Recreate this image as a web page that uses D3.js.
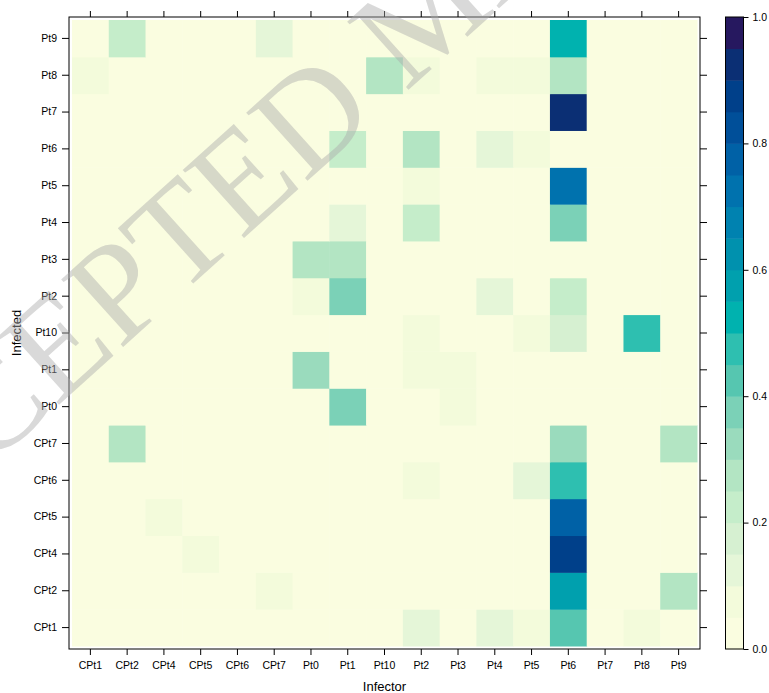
<!DOCTYPE html>
<html>
<head>
<meta charset="utf-8">
<script src="https://cdn.jsdelivr.net/npm/d3@7"></script>
<style>
    body { margin: 0; background: #fff; }
    svg { display: block; font-family: 'Liberation Sans', Arial, sans-serif; }
    .axis path { display: none; }
    .axis line { stroke: #000; }
    .axis text { font-size: 10.5px; fill: #000; }
</style>
</head>
<body>
<script>
// column = infector, row = infected (bottom to top)
var infector = ['CPt1', 'CPt2', 'CPt4', 'CPt5', 'CPt6', 'CPt7', 'Pt0', 'Pt1', 'Pt10', 'Pt2', 'Pt3', 'Pt4', 'Pt5', 'Pt6', 'Pt7', 'Pt8', 'Pt9'];
var infected = ['CPt1', 'CPt2', 'CPt4', 'CPt5', 'CPt6', 'CPt7', 'Pt0', 'Pt1', 'Pt10', 'Pt2', 'Pt3', 'Pt4', 'Pt5', 'Pt6', 'Pt7', 'Pt8', 'Pt9'];

// one row per infected, in the order of infected
var probs = [
    [0, 0, 0, 0, 0, 0, 0, 0, 0, 0.12, 0, 0.12, 0.07, 0.42, 0, 0.07, 0],
    [0, 0, 0, 0, 0, 0.07, 0, 0, 0, 0, 0, 0, 0, 0.57, 0, 0, 0.27],
    [0, 0, 0, 0.07, 0, 0, 0, 0, 0, 0, 0, 0, 0, 0.87, 0, 0, 0],
    [0, 0, 0.07, 0, 0, 0, 0, 0, 0, 0, 0, 0, 0, 0.77, 0, 0, 0],
    [0, 0, 0, 0, 0, 0, 0, 0, 0, 0.07, 0, 0, 0.12, 0.47, 0, 0, 0],
    [0, 0.27, 0, 0, 0, 0, 0, 0, 0, 0, 0, 0, 0, 0.32, 0, 0, 0.27],
    [0, 0, 0, 0, 0, 0, 0, 0.37, 0, 0, 0.07, 0, 0, 0, 0, 0, 0],
    [0, 0, 0, 0, 0, 0, 0.32, 0, 0, 0.07, 0.07, 0, 0, 0, 0, 0, 0],
    [0, 0, 0, 0, 0, 0, 0, 0, 0, 0.07, 0, 0, 0.07, 0.17, 0, 0.47, 0],
    [0, 0, 0, 0, 0, 0, 0.07, 0.37, 0, 0, 0, 0.12, 0, 0.22, 0, 0, 0],
    [0, 0, 0, 0, 0, 0, 0.27, 0.27, 0, 0, 0, 0, 0, 0, 0, 0, 0],
    [0, 0, 0, 0, 0, 0, 0, 0.12, 0, 0.22, 0, 0, 0, 0.37, 0, 0, 0],
    [0, 0, 0, 0, 0, 0, 0, 0, 0, 0.07, 0, 0, 0, 0.72, 0, 0, 0],
    [0, 0, 0, 0, 0, 0, 0, 0.22, 0, 0.27, 0, 0.12, 0.07, 0, 0, 0, 0],
    [0, 0, 0, 0, 0, 0, 0, 0, 0, 0, 0, 0, 0, 0.92, 0, 0, 0],
    [0.07, 0, 0, 0, 0, 0, 0, 0, 0.27, 0.07, 0, 0.07, 0.07, 0.28, 0, 0, 0],
    [0, 0.22, 0, 0, 0, 0.12, 0, 0, 0, 0, 0, 0, 0, 0.52, 0, 0, 0]
];

var colorTicks = [0, 0.2, 0.4, 0.6, 0.8, 1.0];
var levels = d3.range(0, 1.0001, 0.05);
var palette = ['#fafde0', '#f3fbdb', '#e5f6d8', '#d6f0d1', '#c5edca', '#b3e5c3', '#9adbbd', '#7bd1b7', '#56c6b0', '#2ebfb0',
               '#00b2af', '#00a0ae', '#0091ae', '#0082b0', '#0072ae', '#0061a6', '#004f99', '#00408a', '#0b2f74', '#26185f'];

var width = 769,
    height = 693,
    frame = {left: 69, top: 17, right: 700, bottom: 649},
    pad = 3;

var svg = d3.select('body').append('svg')
    .attr('width', width)
    .attr('height', height);

var xScale = d3.scaleBand()
    .domain(infector)
    .range([frame.left + pad, frame.right - pad]);

var yScale = d3.scaleBand()
    .domain(infected.slice().reverse())
    .range([frame.top + pad, frame.bottom - pad]);

var color = d3.scaleThreshold()
    .domain(levels.slice(1, -1))
    .range(palette);

var cells = [];
probs.forEach(function(row, i) {
    row.forEach(function(v, j) {
        cells.push({from: infector[j], to: infected[i], value: v});
    });
});

svg.append('g').selectAll('rect')
    .data(cells)
    .enter()
    .append('rect')
    .attr('x', function(d) { return xScale(d.from); })
    .attr('y', function(d) { return yScale(d.to); })
    .attr('width', xScale.bandwidth() + 0.5)
    .attr('height', yScale.bandwidth() + 0.5)
    .attr('fill', function(d) { return color(d.value); });

svg.append('rect')
    .attr('x', frame.left)
    .attr('y', frame.top)
    .attr('width', frame.right - frame.left)
    .attr('height', frame.bottom - frame.top)
    .attr('fill', 'none')
    .attr('stroke', '#000')
    .attr('stroke-width', 1);

svg.append('g')
    .attr('class', 'axis')
    .attr('transform', 'translate(0,' + frame.bottom + ')')
    .call(d3.axisBottom(xScale).tickSize(6).tickPadding(7));

svg.append('g')
    .attr('class', 'axis')
    .attr('transform', 'translate(0,' + frame.top + ')')
    .call(d3.axisTop(xScale).tickSize(6).tickFormat(''));

svg.append('g')
    .attr('class', 'axis')
    .attr('transform', 'translate(' + frame.left + ',0)')
    .call(d3.axisLeft(yScale).tickSize(7).tickPadding(5));

svg.append('g')
    .attr('class', 'axis')
    .attr('transform', 'translate(' + frame.right + ',0)')
    .call(d3.axisRight(yScale).tickSize(7).tickFormat(''));

svg.append('text')
    .attr('x', (frame.left + frame.right) / 2)
    .attr('y', 691)
    .attr('text-anchor', 'middle')
    .style('font-size', '13px')
    .text('Infector');

svg.append('text')
    .attr('transform', 'translate(21,' + (frame.top + frame.bottom) / 2 + ') rotate(-90)')
    .attr('text-anchor', 'middle')
    .style('font-size', '13px')
    .text('Infected');

// colour key
var key = {left: 725.5, right: 743.5};
var kScale = d3.scaleLinear()
    .domain([0, 1])
    .range([frame.bottom, frame.top]);

svg.append('g').selectAll('rect')
    .data(palette)
    .enter()
    .append('rect')
    .attr('x', key.left)
    .attr('width', key.right - key.left)
    .attr('y', function(d, i) { return kScale(levels[i + 1]); })
    .attr('height', function(d, i) { return kScale(levels[i]) - kScale(levels[i + 1]) + 0.5; })
    .attr('fill', function(d) { return d; });

svg.append('rect')
    .attr('x', key.left)
    .attr('y', frame.top)
    .attr('width', key.right - key.left)
    .attr('height', frame.bottom - frame.top)
    .attr('fill', 'none')
    .attr('stroke', '#000');

svg.append('g')
    .attr('class', 'axis')
    .attr('transform', 'translate(' + key.right + ',0)')
    .call(d3.axisRight(kScale).tickValues(colorTicks).tickSize(5).tickPadding(4).tickFormat(d3.format('.1f')));

// watermark of the journal page, cut by the page edge as in the original
svg.append('text')
    .attr('transform', 'translate(-158,600) rotate(-42)')
    .style('font-family', "'Liberation Serif', 'Times New Roman', serif")
    .style('font-size', '140px')
    .attr('fill', '#aaa')
    .attr('fill-opacity', 0.45)
    .text('ACCEPTED MANUSCRIPT');
</script>
</body>
</html>
